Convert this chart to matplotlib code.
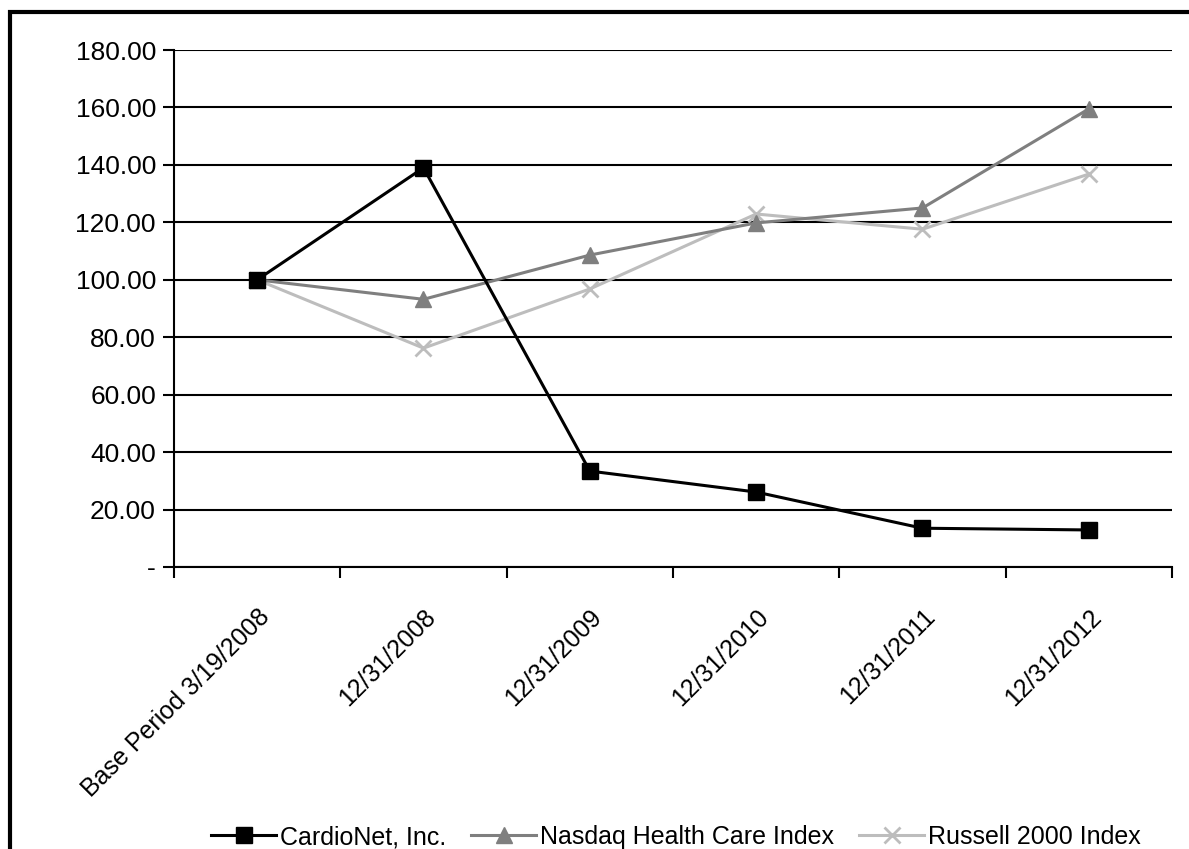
import matplotlib
matplotlib.use("Agg")
import matplotlib.pyplot as plt
from matplotlib.patches import Rectangle
from matplotlib.ticker import FixedLocator, FuncFormatter

plt.rcParams['font.family'] = ['Liberation Sans', 'DejaVu Sans']

categories = ["Base Period 3/19/2008", "12/31/2008", "12/31/2009",
              "12/31/2010", "12/31/2011", "12/31/2012"]
cardionet = [100.0, 139.0, 33.4, 26.1, 13.5, 12.9]
nasdaq_hc = [100.0, 93.2, 108.6, 119.8, 125.0, 159.5]
russell2000 = [100.0, 76.2, 96.8, 122.9, 117.6, 136.8]
y_ticks = [0, 20, 40, 60, 80, 100, 120, 140, 160, 180]

fig = plt.figure(figsize=(11.89, 8.49), dpi=100)
fig.patch.set_facecolor('white')
# outer frame
fig.add_artist(Rectangle((10/1189, -0.05), 1.2, 1 - 12/849 + 0.05,
                         transform=fig.transFigure, fill=False,
                         edgecolor='black', linewidth=3))

ax = fig.add_axes([174/1189, 1 - 567/849, (1172 - 174)/1189, (567 - 50)/849])
x = list(range(len(categories)))

ax.plot(x, cardionet, color='black', lw=2.2, marker='s', markersize=12,
        markerfacecolor='black', markeredgecolor='black', label='CardioNet, Inc.', zorder=5)
ax.plot(x, nasdaq_hc, color='#7f7f7f', lw=2.2, marker='^', markersize=11,
        markerfacecolor='#7f7f7f', markeredgecolor='#7f7f7f',
        label='Nasdaq Health Care Index', zorder=4)
ax.plot(x, russell2000, color='#bdbdbd', lw=2.2, marker='x', markersize=12,
        markeredgewidth=2, label='Russell 2000 Index', zorder=3)

ax.set_xlim(-0.5, len(categories) - 0.5)
ax.set_ylim(0, 180)
ax.yaxis.set_major_locator(FixedLocator(y_ticks))
ax.yaxis.set_major_formatter(FuncFormatter(lambda v, p: '-' if v == 0 else f"{v:.2f}"))
ax.grid(axis='y', color='black', lw=1.5)
ax.set_axisbelow(True)

ax.set_xticks(x)
ax.set_xticklabels(categories, rotation=45, ha='right', rotation_mode='anchor')
ax.set_xticks([i - 0.5 for i in range(len(categories) + 1)], minor=True)
ax.tick_params(axis='x', which='major', length=0, pad=27, labelsize=18)
ax.tick_params(axis='x', which='minor', length=8, width=1.5, direction='out', color='black')
ax.tick_params(axis='y', which='major', length=8, width=1.5, direction='out', labelsize=19, pad=5)

for s in ['top', 'right']:
    ax.spines[s].set_visible(False)
ax.spines['left'].set_linewidth(1.5)
ax.spines['bottom'].set_linewidth(1.5)

leg = fig.legend(loc='center', bbox_to_anchor=(676/1189, 1 - 837/849), ncol=3,
                 frameon=False, fontsize=18, handlelength=2.6, columnspacing=1.0,
                 handletextpad=0.15)

fig.savefig('out.png', dpi=100, facecolor='white')
